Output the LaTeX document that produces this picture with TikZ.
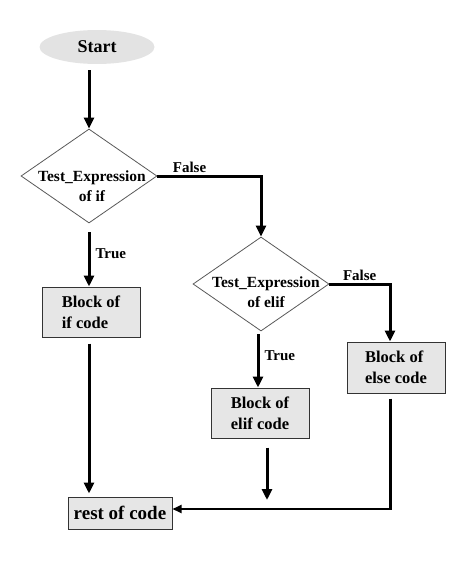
\documentclass[tikz,border=0pt]{standalone}
\usepackage{fontspec}
\setmainfont{Liberation Serif}
\usetikzlibrary{shapes.geometric,arrows.meta}
\definecolor{startgray}{HTML}{E3E3E3}
\definecolor{boxgray}{HTML}{E6E6E6}

\begin{document}
\begin{tikzpicture}[x=1pt,y=-1pt,
    terminal/.style={ellipse,fill=startgray,minimum width=115pt,minimum height=34pt,inner sep=0pt,font=\fontsize{18}{22}\selectfont\bfseries},
    decision/.style={diamond,draw=gray!70!black,line width=.8pt,fill=white,minimum width=136pt,minimum height=94pt,inner sep=0pt},
    dtext/.style={align=center,inner sep=0pt,font=\fontsize{15.5}{20}\selectfont\bfseries},
    block/.style={rectangle,draw=black!80,line width=1pt,fill=boxgray,minimum width=98pt,minimum height=50pt,align=left,font=\fontsize{16.5}{21}\selectfont\bfseries},
    elabel/.style={font=\fontsize{15}{18}\selectfont\bfseries,inner sep=2pt},
    flow/.style={line width=3pt,-{Triangle[length=11pt,width=10pt]}},
    thinflow/.style={line width=2pt,-{Triangle[length=9pt,width=8pt]}}]

    \useasboundingbox (0,0) rectangle (470,570);

    % start and the two tests
    \node[terminal] (start) at (97,47) {Start};
    \node[decision] (d1) at (89,176) {};
    \node[dtext] (d1text) at (92,186) {Test\_Expression\\of if};
    \node[decision] (d2) at (261,284) {};
    \node[dtext] (d2text) at (266,292) {Test\_Expression\\of elif};

    % code blocks
    \node[block] (ifblock) at (91,312) {Block of\\if code};
    \node[block] (elifblock) at (260,413) {Block of\\elif code};
    \node[block,minimum height=51pt] (elseblock) at (396,367.5) {Block of\\else code};
    \node[block,minimum width=104pt,minimum height=32pt,font=\fontsize{19}{22}\selectfont\bfseries] (rest) at (120,513) {rest of code};

    \coordinate (elifend) at (267,500);
    \coordinate (elsecorner) at (390,510);

    % arrows
    \draw[flow] ([yshift=-6pt]start.south -| d1.north) -- (d1.north);
    \draw[flow] ([yshift=-9pt]d1.south) -- node[elabel,right,pos=.4,xshift=3pt] {True} (d1.south |- ifblock.north);
    \draw[flow] (d1.east) -- node[elabel,above,pos=.31] {False} (d1.east -| d2.north) -- (d2.north);
    \draw[flow] ([yshift=-3pt,xshift=-3pt]d2.south) -- node[elabel,right,pos=.4,xshift=3pt] {True} ([xshift=-3pt]d2.south |- elifblock.north);
    \draw[flow] (d2.east) -- node[elabel,above,pos=.5] {False} (d2.east -| elsecorner) -- (elsecorner |- elseblock.north);
    \draw[flow,shorten >=3pt] ([yshift=-6pt]ifblock.south -| d1.south) -- (d1.south |- rest.north);
    \draw[flow] ([yshift=-9pt]elifblock.south -| elifend) -- (elifend);
    \draw[line width=3pt] ([yshift=-5pt]elseblock.south -| elsecorner) -- (elsecorner);
    \draw[thinflow] ([yshift=1pt]elsecorner) -- ([yshift=1pt]rest.east |- elsecorner);

\end{tikzpicture}
\end{document}
